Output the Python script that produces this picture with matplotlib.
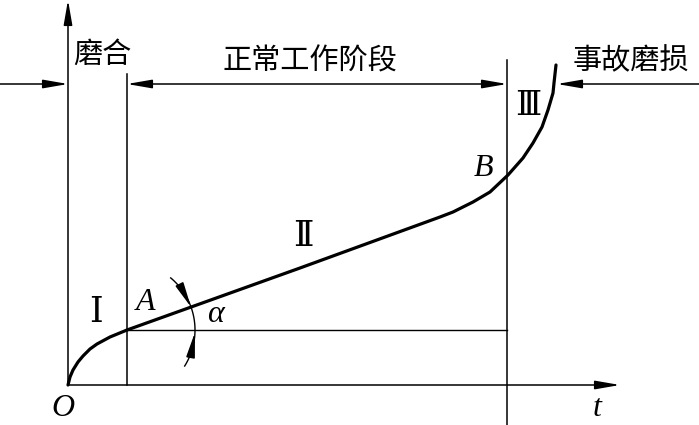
import numpy as np
import matplotlib
matplotlib.use("Agg")
import matplotlib.pyplot as plt

# ------------------------------
# Data (t = time, w = wear)
# ------------------------------

# wear curve: run-in (I), steady (II), failure (III)
curve_t = [0, 2, 5, 10, 15, 22, 29, 42, 59, 232, 372, 385,
           405, 422, 440, 455, 465, 474, 480, 485, 486, 488]
curve_w = [0, 8, 15, 23, 29, 36, 41, 48, 55, 117, 168, 173,
           183, 193, 210, 227, 242, 258, 275, 292, 302, 320]

# stage boundaries
t_A = 59
w_A = 55
t_B = 439
t_fail = 489      # where the curve meets the top dimension line
w_dim = 301       # height of the stage dimension line

stage_names = ["磨合", "正常工作阶段", "事故磨损"]
stage_marks = ["Ⅰ", "Ⅱ", "Ⅲ"]
point_names = ["O", "A", "B", "t", "α"]

# ------------------------------
# Figure
# ------------------------------

fig = plt.figure(figsize=(6.99, 4.25), dpi=100)
ax = fig.add_axes([0, 0, 1, 1])
ax.set_xlim(-68, 631)
ax.set_ylim(-40, 385)
ax.axis("off")

black = "black"
head = dict(arrowstyle="-|>,head_length=0.75,head_width=0.13",
            color=black, lw=1.1, mutation_scale=20, shrinkA=0, shrinkB=0)
head2 = dict(arrowstyle="<|-|>,head_length=0.75,head_width=0.13",
             color=black, lw=1.1, mutation_scale=20, shrinkA=0, shrinkB=0)

# axes with arrows
ax.annotate("", xy=(0, 385), xytext=(0, 0), arrowprops=head)
ax.annotate("", xy=(552, 0), xytext=(0, 0), arrowprops=head)

# stage boundary lines
ax.plot([t_A, t_A], [0, 311], color=black, lw=1.1)
ax.plot([t_B, t_B], [-40, 325], color=black, lw=1.1)
ax.plot([t_A, t_B], [w_A, w_A], color=black, lw=1.0)

# dimension line on top
ax.annotate("", xy=(0, w_dim), xytext=(-68, w_dim), arrowprops=head)
ax.annotate("", xy=(t_B, w_dim), xytext=(t_A, w_dim), arrowprops=head2)
ax.annotate("", xy=(t_fail, w_dim), xytext=(631, w_dim), arrowprops=head)

# wear curve
ax.plot(curve_t, curve_w, color=black, lw=2.3, solid_capstyle="round",
        solid_joinstyle="round")

# angle alpha: arc centred at A
r = 68
slope = np.degrees(np.arctan2(curve_w[9] - w_A, curve_t[9] - t_A))
ang = np.radians(np.linspace(50, -32, 60))
ax.plot(t_A + r * np.cos(ang), w_A + r * np.sin(ang), color=black, lw=1.0)
a1 = np.radians([34, slope])
ax.annotate("", xy=(t_A + r * np.cos(a1[1]), w_A + r * np.sin(a1[1])),
            xytext=(t_A + r * np.cos(a1[0]), w_A + r * np.sin(a1[0])), arrowprops=head)
a2 = np.radians([-18, -2])
ax.annotate("", xy=(t_A + r * np.cos(a2[1]), w_A + r * np.sin(a2[1])),
            xytext=(t_A + r * np.cos(a2[0]), w_A + r * np.sin(a2[0])), arrowprops=head)

# ------------------------------
# Text
# ------------------------------

cjk = ["Noto Sans CJK SC", "DejaVu Sans"]
roman = ["DejaVu Serif", "Noto Sans CJK SC"]
ital = dict(family="Liberation Serif", style="italic", fontsize=23, ha="center", va="center")

ax.text(34, 330, stage_names[0], family=cjk, fontsize=21, ha="center", va="center")
ax.text(242, 324, stage_names[1], family=cjk, fontsize=21, ha="center", va="center")
ax.text(563, 324, stage_names[2], family=cjk, fontsize=21, ha="center", va="center")

ax.text(28, 73, stage_marks[0], family=roman, fontsize=25, ha="center", va="center")
ax.text(235, 149, stage_marks[1], family=roman, fontsize=25, ha="center", va="center")
ax.text(460, 279, stage_marks[2], family=roman, fontsize=24, ha="center", va="center")

ax.text(-5, -23, point_names[0], **ital)
ax.text(77, 83, point_names[1], **ital)
ax.text(415, 217, point_names[2], **ital)
ax.text(529, -23, point_names[3], **ital)
ax.text(147, 70, point_names[4], **ital)

fig.savefig("out.png", dpi=100)
